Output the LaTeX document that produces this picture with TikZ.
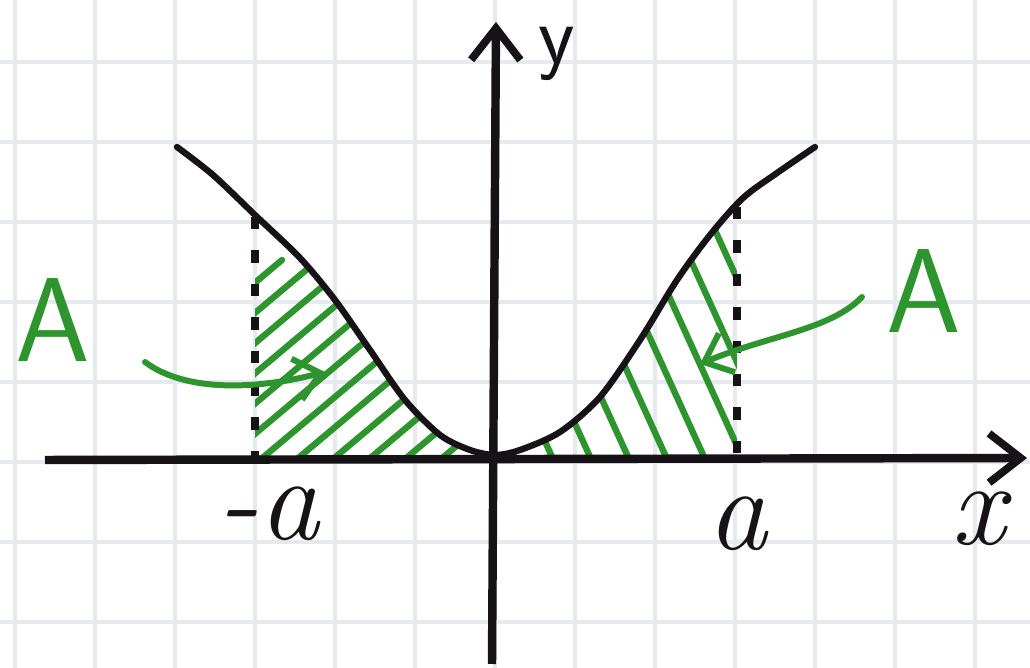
\documentclass[tikz,border=0pt]{standalone}
\usepackage{tikz}
\usetikzlibrary{arrows.meta}
\definecolor{penGreen}{RGB}{46,148,46}
\definecolor{gridGray}{RGB}{230,234,238}
\definecolor{ink}{RGB}{22,18,22}
\tikzset{
  gridline/.style={draw=gridGray, line width=0.9pt},
  axis/.style={draw=ink, line width=2.4pt,
    -{Straight Barb[length=9pt, width=14pt, line width=2.2pt]}},
  curve/.style={draw=ink, line width=1.8pt, line cap=round, line join=round},
  guide/.style={draw=ink, line width=2.3pt, dash pattern=on 3.5pt off 6pt},
  hatch/.style={draw=penGreen, line width=1.8pt, line cap=round},
  pointer/.style={draw=penGreen, line width=1.7pt, line cap=round,
    -{Straight Barb[length=7pt, width=12pt, line width=1.7pt]}},
  lbl/.style={text=ink, inner sep=0pt, anchor=base},
  arealbl/.style={text=penGreen, inner sep=0pt, anchor=base,
    font=\sffamily\fontsize{34}{36}\selectfont},
}

\begin{document}
\begin{tikzpicture}[x=0.01cm, y=-0.01cm]
  \useasboundingbox (0,0) rectangle (1030,668);
  \fill[white] (0,0) rectangle (1030,668);

  % squared paper
  \foreach \gx in {15,95,...,975} \draw[gridline] (\gx,0) -- (\gx,668);
  \foreach \gy in {62,142,...,622} \draw[gridline] (0,\gy) -- (1030,\gy);

  % hatching left of the y axis
  \begin{scope}
    \clip (255,462) -- plot[smooth] coordinates {(255,215) (300,258) (335,300)
      (370,350) (405,400) (440,435) (470,450) (495,455)} -- (495,462) -- cycle;
    \foreach \hx in {-40,-4,...,480} \draw[hatch] (\hx,470) -- ++(250,-210);
  \end{scope}

  % hatching right of the y axis
  \begin{scope}
    \clip (495,462) -- plot[smooth] coordinates {(495,455) (520,450) (560,432)
      (600,397) (640,340) (677,280) (710,235) (737,205)} -- (737,462) -- cycle;
    \foreach \hx in {520,558,...,880} \draw[hatch] (\hx,470) -- ++(-140,-308);
  \end{scope}

  % axes
  \coordinate (xl) at (45,460);
  \coordinate (xr) at (1027,458);
  \coordinate (yb) at (492,664);
  \coordinate (yt) at (496,22);
  \draw[axis] (xl) -- (xr);
  \draw[axis] (yb) -- (yt);

  % graph
  \draw[curve] plot[smooth] coordinates {(177,147) (213,175) (255,215) (300,258)
    (335,300) (370,350) (405,400) (440,435) (470,450) (495,455) (520,450)
    (560,432) (600,397) (640,340) (677,280) (710,235) (743,198) (777,173)
    (815,147)};

  % limits
  \coordinate (pl) at (255,217);
  \coordinate (ml) at (255,468);
  \coordinate (pr) at (737,207);
  \coordinate (mr) at (737,458);
  \draw[guide] (pl) -- (ml);
  \draw[guide] (pr) -- (mr);

  % labels
  \node[lbl, font=\sffamily\fontsize{24}{26}\selectfont] (ylab) at (557,64) {y};
  \node[lbl, font=\itshape\fontsize{34}{36}\selectfont] (xlab) at (978,545) {x};
  \node[lbl, font=\itshape\fontsize{34}{36}\selectfont] (mina) at (268,540) {-a};
  \node[lbl, font=\itshape\fontsize{34}{36}\selectfont] (plsa) at (737,550) {a};

  % areas
  \node[arealbl] (al) at (53,362) {A};
  \node[arealbl] (ar) at (924,333) {A};
  \coordinate (lstart) at (145,362);
  \coordinate (ltip) at (325,372);
  \coordinate (rstart) at (862,297);
  \coordinate (rtip) at (700,364);
  \draw[pointer] (lstart) .. controls (185,392) and (255,390) .. (ltip);
  \draw[pointer] (rstart) .. controls (830,330) and (770,335) .. (rtip);
\end{tikzpicture}
\end{document}
